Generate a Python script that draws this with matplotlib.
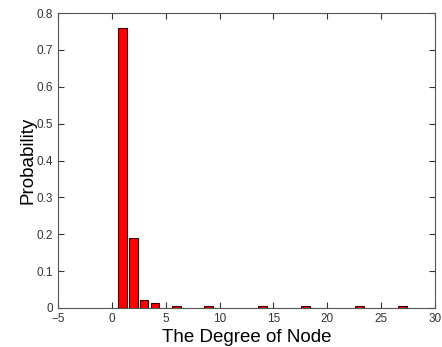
import matplotlib.pyplot as plt

degree = [1, 2, 3, 4, 6, 9, 14, 18, 23, 27]
prob = [0.758, 0.189, 0.022, 0.013, 0.0042, 0.0042, 0.0042, 0.0042, 0.0042, 0.0042]

plt.rcParams['font.family'] = ['Liberation Sans', 'DejaVu Sans']

fig = plt.figure(figsize=(4.42, 3.47), dpi=100)
ax = fig.add_axes([58 / 442, 39 / 347, 377 / 442, 295 / 347])

ax.bar(degree, prob, width=0.8, color='#ff0000', edgecolor='#3a0000', linewidth=0.8)

ax.set_xlim(-5, 30)
ax.set_ylim(0, 0.8)
ax.set_xticks(range(-5, 31, 5))
ax.set_yticks([i / 10 for i in range(9)])
ax.set_yticklabels(['0', '0.1', '0.2', '0.3', '0.4', '0.5', '0.6', '0.7', '0.8'])
ax.tick_params(direction='in', top=True, right=True, labelsize=8.5, length=4, colors='#333333')
for s in ax.spines.values():
    s.set_color('#555555')
    s.set_linewidth(0.8)

ax.set_xlabel('The Degree of Node', fontsize=13.5, labelpad=3)
ax.set_ylabel('Probability', fontsize=13.5, labelpad=0)

fig.savefig('out.png', dpi=100)
